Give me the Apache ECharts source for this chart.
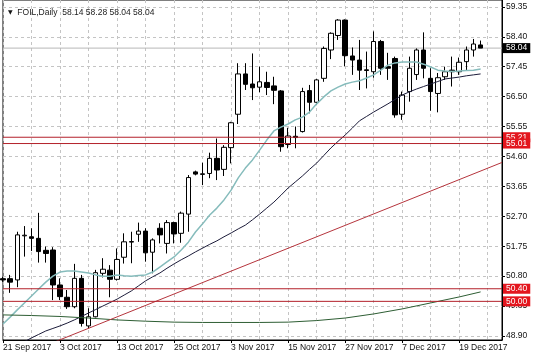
<!DOCTYPE html>
<html><head><meta charset="utf-8">
<script src="https://cdn.jsdelivr.net/npm/echarts@6/dist/echarts.min.js"></script>
<style>html,body{margin:0;padding:0;background:#fff}#c{width:536px;height:356px}</style>
</head><body><div id="c"></div>
<script>
const dates = ['21 Sep 2017','22 Sep 2017','25 Sep 2017','26 Sep 2017','27 Sep 2017','28 Sep 2017','29 Sep 2017','2 Oct 2017',
'3 Oct 2017','4 Oct 2017','5 Oct 2017','6 Oct 2017','9 Oct 2017','10 Oct 2017','11 Oct 2017','12 Oct 2017',
'13 Oct 2017','16 Oct 2017','17 Oct 2017','18 Oct 2017','19 Oct 2017','20 Oct 2017','23 Oct 2017','24 Oct 2017',
'25 Oct 2017','26 Oct 2017','27 Oct 2017','29 Oct 2017','30 Oct 2017','31 Oct 2017','1 Nov 2017','2 Nov 2017',
'3 Nov 2017','6 Nov 2017','7 Nov 2017','8 Nov 2017','9 Nov 2017','10 Nov 2017','13 Nov 2017','14 Nov 2017',
'15 Nov 2017','16 Nov 2017','17 Nov 2017','20 Nov 2017','21 Nov 2017','22 Nov 2017','23 Nov 2017','24 Nov 2017',
'27 Nov 2017','28 Nov 2017','29 Nov 2017','30 Nov 2017','1 Dec 2017','4 Dec 2017','5 Dec 2017','6 Dec 2017',
'7 Dec 2017','8 Dec 2017','11 Dec 2017','12 Dec 2017','13 Dec 2017','14 Dec 2017','15 Dec 2017','18 Dec 2017',
'19 Dec 2017','20 Dec 2017','21 Dec 2017','22 Dec 2017','25 Dec 2017','26 Dec 2017','27 Dec 2017'];

const open = [50.72,50.72,50.68,52.08,52.05,52.00,51.62,51.63,50.52,50.13,
49.83,50.73,49.22,49.51,50.89,50.99,50.70,51.40,51.88,52.13,
52.23,51.56,52.32,51.84,52.50,52.16,52.77,54.11,54.03,54.06,
54.54,54.19,54.88,55.94,57.22,56.90,56.80,56.95,56.84,56.68,
54.98,55.24,55.39,56.69,56.32,57.08,57.98,58.44,58.93,57.79,
57.66,57.35,57.29,58.25,57.45,57.71,55.94,56.66,57.20,57.98,
57.08,56.60,57.13,57.34,57.29,57.61,57.98,58.14];
const high = [50.78,50.84,52.21,52.39,52.32,52.81,51.74,51.72,50.73,50.36,
51.19,50.84,49.78,51.00,51.37,51.15,51.68,52.16,52.21,52.50,
52.32,52.00,52.48,52.58,52.53,52.85,54.01,54.15,54.40,54.72,
55.17,54.96,55.70,57.56,57.56,57.87,57.45,57.29,57.13,56.71,
55.51,55.55,56.78,56.87,57.06,58.09,58.54,58.96,58.95,58.06,
58.30,57.93,58.57,58.30,57.89,57.77,56.66,57.77,58.03,58.54,
57.40,57.25,57.45,57.77,57.74,58.09,58.33,58.28];
const low = [50.62,50.27,50.45,51.42,51.60,51.23,51.23,50.04,50.04,49.76,
49.78,49.20,49.14,49.49,50.76,50.13,50.66,51.20,51.21,51.89,
51.26,50.89,51.84,51.52,51.84,51.86,52.21,54.00,53.69,53.91,
53.85,53.98,54.38,55.63,56.71,56.39,56.64,56.55,56.26,54.75,
54.86,54.86,55.36,55.97,56.23,56.97,57.69,58.30,57.46,57.19,
56.71,56.76,57.10,57.19,57.03,55.83,55.76,56.34,57.03,57.08,
56.05,56.00,57.03,56.82,57.19,57.34,57.77,58.04];
const close = [50.68,50.61,52.11,52.10,52.00,51.58,51.52,50.52,50.15,49.83,
50.73,49.30,49.51,50.91,51.02,50.70,51.33,51.89,51.90,52.23,
51.54,51.95,52.11,52.50,52.14,52.80,53.93,54.04,54.05,54.54,
54.17,54.89,55.67,57.22,56.89,56.78,56.97,56.79,56.70,54.91,
55.25,55.20,56.66,56.32,57.03,58.03,58.51,58.93,57.80,57.66,
57.34,57.33,58.25,57.40,57.40,55.92,56.55,57.40,57.98,57.40,
56.66,57.10,57.29,57.29,57.59,57.98,58.17,58.04];

const maFast = [49.28,49.50,49.73,49.95,50.17,50.39,50.61,50.80,50.93,50.96,
50.96,50.93,50.90,50.84,50.80,50.80,50.84,50.81,50.80,50.82,
50.84,50.93,51.09,51.25,51.41,51.63,51.88,52.20,52.46,52.74,
52.96,53.22,53.53,53.92,54.23,54.49,54.80,55.12,55.41,55.53,
55.63,55.76,55.85,56.01,56.27,56.49,56.68,56.80,56.90,56.96,
57.00,57.09,57.19,57.34,57.50,57.57,57.60,57.60,57.60,57.53,
57.44,57.34,57.31,57.30,57.31,57.33,57.34,57.38];
const maSlow = [null,null,48.62,48.72,48.84,48.95,49.06,49.14,49.22,49.31,
49.41,49.52,49.63,49.74,49.85,49.96,50.07,50.20,50.33,50.49,
50.65,50.78,50.90,51.05,51.19,51.32,51.44,51.57,51.69,51.81,
51.92,52.05,52.17,52.30,52.42,52.59,52.77,52.96,53.15,53.37,
53.60,53.79,53.98,54.19,54.39,54.63,54.87,55.08,55.28,55.50,
55.73,55.87,56.01,56.14,56.27,56.41,56.55,56.65,56.74,56.82,
56.90,56.98,57.06,57.09,57.12,57.16,57.19,57.22];
const maLongIdx = [0,4,8,12,16,20,24,28,32,36,40,44,48,52,56,60,64,67];
const maLongVal = [49.57,49.55,49.52,49.47,49.41,49.37,49.34,49.33,49.33,49.33,49.34,49.39,49.47,49.60,49.76,49.95,50.14,50.30];

const trendIdx = [7, 70];
const trendVal = [48.69, 54.41];

const yTicks = [48.90,49.85,50.80,51.75,52.70,53.65,54.60,55.55,56.50,57.45,58.40,59.35];
const levels = [55.21, 55.01, 50.40, 50.00];
const symbolName = 'FOIL,Daily';

const FONT = 'Liberation Sans';
const last = open.length - 1;
const lastIdx = dates.length - 1;
const candles = open.map((o, i) => [o, close[i], low[i], high[i]]);
const grid = {color: '#c4c4c4', type: [3, 3], width: 1};
const LEVEL_COLOR = '#b3202a';

function hLine(value, lineColor, boxColor) {
  return {
    type: 'line', data: [[0, value], [lastIdx, value]], symbol: 'none', silent: true, z: 1,
    color: lineColor, lineStyle: {color: lineColor, width: 1, type: 'solid'},
    endLabel: {show: true, distance: 1, formatter: () => value.toFixed(2),
      backgroundColor: boxColor, color: '#fff', fontSize: 8.5, fontFamily: FONT,
      padding: [1, 3, 0, 3], lineHeight: 9}
  };
}

const chart = echarts.init(document.getElementById('c'), null, {renderer: 'canvas'});
chart.setOption({
  animation: false,
  backgroundColor: '#fff',
  title: {
    text: '{t|▼}  ' + symbolName + '  ' + [open[last], high[last], low[last], close[last]].map(v => v.toFixed(2)).join(' '),
    left: 3, top: 3,
    textStyle: {fontSize: 8.5, fontWeight: 'normal', color: '#222', fontFamily: FONT,
      rich: {t: {fontSize: 6, color: '#111', fontFamily: 'DejaVu Sans'}}}
  },
  grid: {left: 3, right: 34, top: 0, bottom: 16, show: true, borderColor: '#000', borderWidth: 1},
  xAxis: {
    type: 'category', data: dates, boundaryGap: false,
    axisLine: {show: true, lineStyle: {color: '#000'}},
    axisTick: {show: true, interval: i => i % 8 === 0, length: 3, lineStyle: {color: '#000'}},
    axisLabel: {interval: i => i % 8 === 0 && i <= 64, align: 'left', fontSize: 8.5, fontFamily: FONT,
      color: '#111', margin: 3},
    splitLine: {show: true, interval: i => i % 4 === 0, lineStyle: grid}
  },
  yAxis: {
    type: 'value', position: 'right', min: 48.773, max: 59.567,
    axisLine: {show: true, lineStyle: {color: '#000'}},
    axisTick: {show: true, length: 3, customValues: yTicks, lineStyle: {color: '#000'}},
    axisLabel: {customValues: yTicks, formatter: v => v.toFixed(2), fontSize: 8.5, fontFamily: FONT,
      color: '#111', margin: 4},
    splitLine: {show: true, lineStyle: grid}
  },
  series: [
    hLine(close[last], '#b8b8b8', '#000'),
    {
      type: 'candlestick', data: candles, barWidth: 5, silent: true, z: 2,
      itemStyle: {color: '#fff', color0: '#000', borderColor: '#000', borderColor0: '#000', borderWidth: 1}
    },
    {type: 'line', data: maFast, symbol: 'none', silent: true, z: 3, lineStyle: {color: '#86bcbc', width: 1.5}},
    {type: 'line', data: maSlow, symbol: 'none', silent: true, z: 3, lineStyle: {color: '#1c1c3a', width: 1}},
    {type: 'line', data: maLongIdx.map((x, i) => [x, maLongVal[i]]), symbol: 'none', silent: true, z: 3,
      lineStyle: {color: '#2e5e34', width: 1}},
    {type: 'line', data: trendIdx.map((x, i) => [x, trendVal[i]]), symbol: 'none', silent: true, z: 3,
      lineStyle: {color: '#b5343c', width: 1}},
    ...levels.map(v => Object.assign(hLine(v, LEVEL_COLOR, '#e3161e'), {z: 4}))
  ]
});
</script>
</body></html>
